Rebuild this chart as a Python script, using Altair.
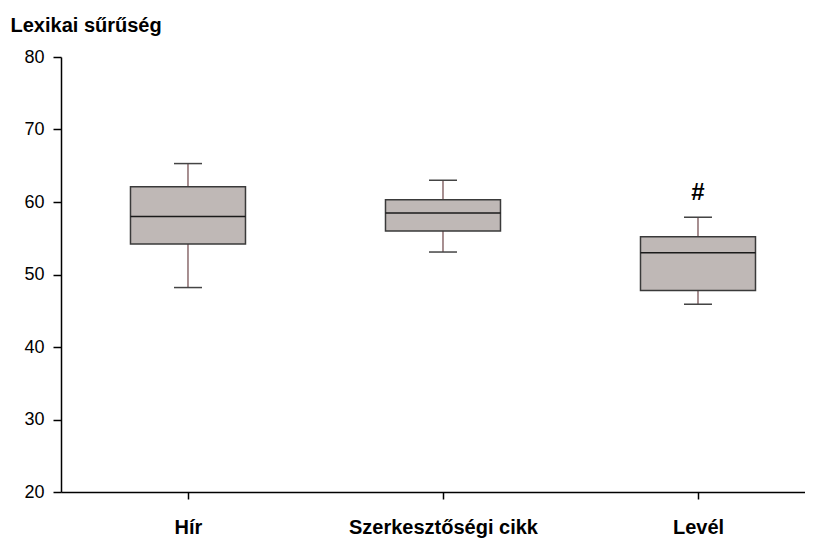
import altair as alt
import pandas as pd

categories = ["Hír", "Szerkesztőségi cikk", "Levél"]
whisker_low = [48.2, 53.1, 45.9]
q1 = [54.2, 56.0, 47.8]
median = [58.0, 58.5, 53.0]
q3 = [62.1, 60.3, 55.2]
whisker_high = [65.3, 63.0, 57.9]
marker_cat = ["Levél"]
marker_y = [61.2]
marker_text = ["#"]

df = pd.DataFrame({
    "cat": categories, "lo": whisker_low, "q1": q1,
    "med": median, "q3": q3, "hi": whisker_high,
})
mdf = pd.DataFrame({"cat": marker_cat, "y": marker_y, "t": marker_text})

FONT = "Liberation Sans"

xscale = alt.Scale(type="point", domain=categories, padding=0.4588, align=0.5427)
yscale = alt.Scale(domain=[20, 80], nice=False, zero=False)

x = alt.X("cat:N", scale=xscale, sort=categories,
          axis=alt.Axis(title=None, labelAngle=0, tickSize=7, tickColor="#000",
                        tickWidth=1.5, domainColor="#000", domainWidth=1.5,
                        labelFontSize=20, labelFontWeight="bold", labelColor="#000",
                        labelFont=FONT, labelPadding=18, labelLimit=0))
y_axis = alt.Axis(title="Lexikai sűrűség", values=[20, 30, 40, 50, 60, 70, 80],
                  grid=False, tickSize=8, tickColor="#000", tickWidth=1.5,
                  domainColor="#000", domainWidth=1.5, labelFontSize=18,
                  labelColor="#000", labelFont=FONT, labelPadding=9,
                  titleAngle=0, titleX=-51, titleY=-26, titleAlign="left",
                  titleBaseline="alphabetic", titleFontSize=20, titleFontWeight="bold",
                  titleFont=FONT, titleColor="#000")

base = alt.Chart(df)

whisker = base.mark_rule(color="#8a6a6c", strokeWidth=1.5).encode(
    x=x, y=alt.Y("lo:Q", scale=yscale, axis=y_axis), y2="hi:Q")
cap_lo = base.mark_tick(orient="horizontal", size=28, thickness=1.5, color="#444", opacity=1).encode(
    x=x, y=alt.Y("lo:Q", scale=yscale))
cap_hi = base.mark_tick(orient="horizontal", size=28, thickness=1.5, color="#444", opacity=1).encode(
    x=x, y=alt.Y("hi:Q", scale=yscale))
box = base.mark_bar(size=115, fill="#bfb8b6", stroke="#3a3a3a", strokeWidth=1.5).encode(
    x=x, y=alt.Y("q1:Q", scale=yscale), y2="q3:Q")
med = base.mark_tick(orient="horizontal", size=115, thickness=1.5, color="#1a1a1a", opacity=1).encode(
    x=x, y=alt.Y("med:Q", scale=yscale))
mark = alt.Chart(mdf).mark_text(fontSize=24, fontWeight="bold", font=FONT, color="#000").encode(
    x=x, y=alt.Y("y:Q", scale=yscale), text="t:N")

chart = alt.layer(whisker, cap_lo, cap_hi, box, med, mark).properties(
    width=744, height=435,
    autosize=alt.AutoSizeParams(type="none"),
    padding={"left": 53, "top": 49, "right": 0, "bottom": 49},
    background="white",
).configure_view(stroke=None)

chart.save("out.html", embed_options={"renderer": "svg", "actions": False})
